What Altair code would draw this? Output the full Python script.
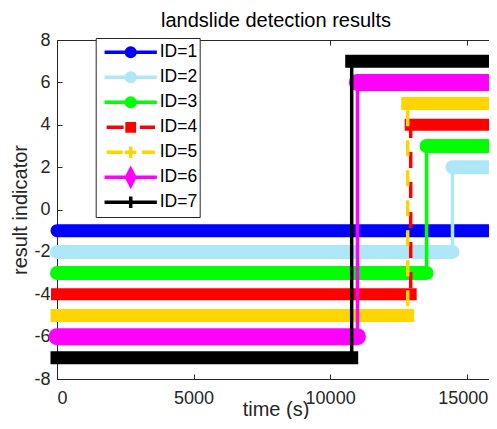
import altair as alt
import pandas as pd

# ---- data ----
ids = [1, 2, 3, 4, 5, 6, 7]
labels = ["ID=1", "ID=2", "ID=3", "ID=4", "ID=5", "ID=6", "ID=7"]
low_level = [-1, -2, -3, -4, -5, -6, -7]
high_level = [None, 2, 3, 4, 5, 6, 7]
switch_time = [None, 14480, 13530, 12950, 12840, 11000, 10790]
t_start = 0
t_end = 16000
x_ticks = [0, 5000, 10000, 15000]
y_ticks = [-8, -6, -4, -2, 0, 2, 4, 6, 8]
title_text = "landslide detection results"

# ---- styles ----
colors = ["#0000FF", "#AEE7F8", "#00FF00", "#FF0000", "#FFD500", "#FF00FF", "#000000"]
marker_kind = ["circle", "circle", "circle", "square", "plus", "diamond", "plus"]
dashed = [False, False, False, True, True, False, False]
band_width = [13, 14, 14, 12, 13, 17, 13]
cap_for = {"circle": "round", "square": "square", "plus": "square", "diamond": "round"}

FONT = "Liberation Sans, Arial, Helvetica, sans-serif"
AX = "#262626"

def legend_path(kind, is_dashed):
    if is_dashed:
        if kind == "plus":
            line = "M-0.92,0H-0.31M0.43,0H0.93"
        else:
            line = "M-0.92,0H-0.27M0.35,0H0.93"
    else:
        line = "M-1,0H1"
    if kind == "circle":
        m = "M0.165,0A0.165,0.165,0,1,1,-0.165,0A0.165,0.165,0,1,1,0.165,0Z"
    elif kind == "square":
        m = "M-0.14,-0.14H0.14V0.14H-0.14Z"
    elif kind == "diamond":
        m = "M0,-0.31L0.16,0L0,0.31L-0.16,0Z"
    else:
        m = "M0,-0.22V0.22M-0.22,0H0.22"
    return line + m

paths = [legend_path(k, d) for k, d in zip(marker_kind, dashed)]

xs = alt.Scale(domain=[t_start, t_end], nice=False, zero=False)
ys = alt.Scale(domain=[-8, 8], nice=False, zero=False)

axis_bottom = alt.Axis(orient="bottom", values=x_ticks, offset=-5, tickSize=5, tickWidth=1,
                       tickColor=AX, labelPadding=10, labelFontSize=18, labelColor=AX,
                       labelFont=FONT, domain=False, grid=False, format="d",
                       labelOffset={"condition": {"test": "datum.value >= 15000", "value": -4},
                                    "value": 0},
                       title="time (s)", titleFontSize=20, titleFont=FONT,
                       titleFontWeight="normal", titleColor=AX, titlePadding=-8)
axis_left = alt.Axis(orient="left", values=y_ticks, offset=-5, tickSize=5, tickWidth=1,
                     tickColor=AX, labelPadding=7, labelFontSize=18, labelColor=AX,
                     labelFont=FONT, domain=False, grid=False,
                     labelExpr="'' + datum.value",
                     title="result indicator", titleFontSize=20, titleFont=FONT,
                     titleFontWeight="normal", titleColor=AX, titlePadding=3)
axis_top = alt.Axis(orient="top", values=x_ticks, offset=-5, tickSize=5, tickWidth=1,
                    tickColor=AX, labels=False, domain=False, grid=False,
                    title=title_text, titleFontSize=20, titleFont=FONT,
                    titleFontWeight="normal", titleColor="#000000",
                    titleBaseline="alphabetic", titleY=-19)
axis_right = alt.Axis(orient="right", values=y_ticks, offset=-5, tickSize=5, tickWidth=1,
                      tickColor=AX, labels=False, domain=False, grid=False, title="")

layers = []
first = True
for i in range(len(ids)):
    c = colors[i]
    t = switch_time[i]
    lo = low_level[i]
    hi = high_level[i]
    if t is None:
        line_df = pd.DataFrame({"x": [t_start, t_end], "y": [lo, lo], "k": [0, 1]})
    else:
        line_df = pd.DataFrame({"x": [t_start, t, t, t_end], "y": [lo, lo, hi, hi], "k": [0, 1, 2, 3]})
    line_kwargs = dict(color=c, strokeWidth=3.5)
    if dashed[i]:
        line_kwargs["strokeDash"] = [16, 14]
    if first:
        xenc = alt.X("x:Q", scale=xs, axis=axis_bottom)
        yenc = alt.Y("y:Q", scale=ys, axis=axis_left)
        first = False
    else:
        xenc = alt.X("x:Q", scale=xs, axis=None)
        yenc = alt.Y("y:Q", scale=ys, axis=None)
    layers.append(alt.Chart(line_df).mark_line(**line_kwargs).encode(
        x=xenc, y=yenc, order="k:Q"))
    seg_x = [t_start]
    seg_x2 = [t_end if t is None else t]
    seg_y = [lo]
    if t is not None:
        seg_x.append(t)
        seg_x2.append(t_end)
        seg_y.append(hi)
    band_df = pd.DataFrame({"x": seg_x, "x2": seg_x2, "y": seg_y})
    layers.append(alt.Chart(band_df).mark_rule(
        color=c, strokeWidth=band_width[i], strokeCap=cap_for[marker_kind[i]]).encode(
        x=alt.X("x:Q", scale=xs, axis=None), x2="x2:Q",
        y=alt.Y("y:Q", scale=ys, axis=None)))

leg_df = pd.DataFrame({"label": labels, "x": [-10000] * len(labels), "y": [0] * len(labels)})
leg = alt.Legend(orient="none", legendX=38.7, legendY=-2, direction="vertical",
                 padding=2, symbolOffset=5, labelOffset=1, clipHeight=24.6, rowPadding=0,
                 symbolSize=2735, symbolStrokeWidth=3.5, symbolOpacity=1,
                 labelFontSize=17.5, labelFont=FONT, labelColor="#000000", labelLimit=44,
                 strokeColor="#262626", fillColor="#FFFFFF", cornerRadius=0)
layers.append(alt.Chart(leg_df).mark_point(filled=True, clip=True, opacity=1,
                                           size=2735, strokeWidth=3.5).encode(
    x=alt.X("x:Q", scale=xs, axis=axis_top),
    y=alt.Y("y:Q", scale=ys, axis=axis_right),
    fill=alt.Fill("label:N", scale=alt.Scale(domain=labels, range=colors), legend=leg, title=None),
    stroke=alt.Stroke("label:N", scale=alt.Scale(domain=labels, range=colors), legend=leg, title=None),
    shape=alt.Shape("label:N", scale=alt.Scale(domain=labels, range=paths), legend=leg, title=None),
))

chart = alt.layer(*layers).properties(
    width=437, height=339,
    padding={"left": 49, "top": 32, "right": -5, "bottom": 40},
    autosize=alt.AutoSizeParams(type="none"),
).resolve_axis(x="independent", y="independent").configure_view(
    stroke=AX, strokeWidth=1).configure_axis(grid=False)

chart.save("out.html", embed_options={"renderer": "svg", "actions": False})
